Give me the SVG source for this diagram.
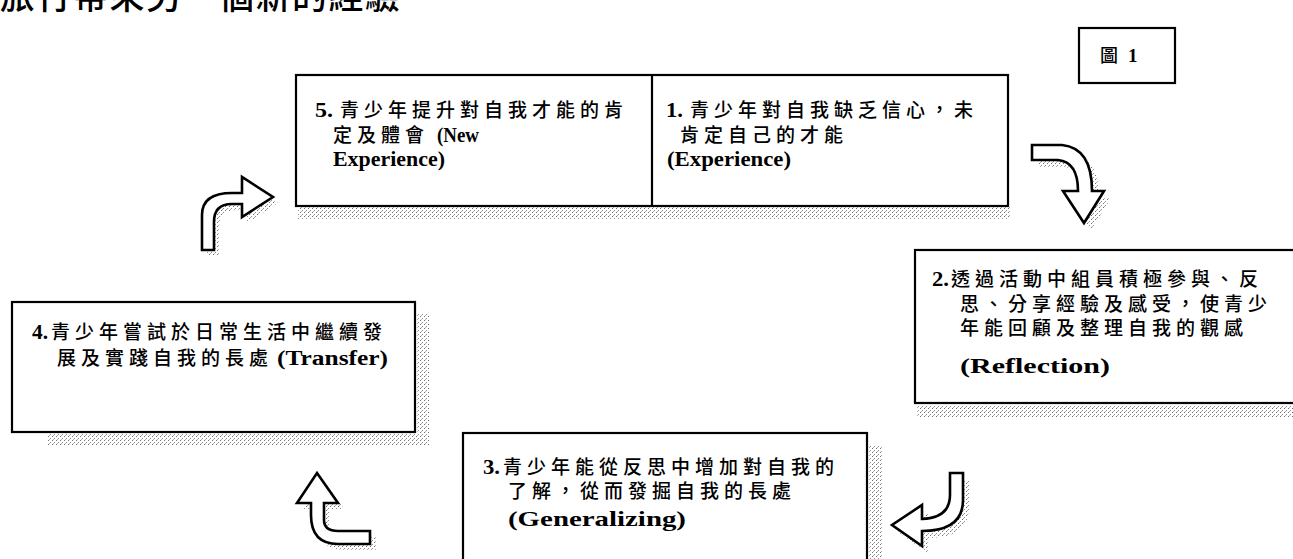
<svg xmlns="http://www.w3.org/2000/svg" width="1293" height="559" viewBox="0 0 1293 559">
<defs>
<pattern id="dots" width="4" height="4" patternUnits="userSpaceOnUse">
<rect width="1" height="1" fill="#707070"/>
<rect x="2" y="2" width="1" height="1" fill="#909090"/>
<rect x="1" y="3" width="1" height="1" fill="#b0b0b0"/>
</pattern>
<style>
.box{fill:#fff;stroke:#000;stroke-width:2.2}
.shadow{fill:url(#dots)}
.arrow{fill:#fff;stroke:#000;stroke-width:2.6;stroke-linejoin:miter}
.zh{font-family:"Noto Sans CJK TC","Noto Sans CJK SC",sans-serif;font-size:19px;font-weight:500;letter-spacing:5px;fill:#000}
.en{font-family:"Liberation Serif","Noto Sans CJK TC",serif;font-size:20px;font-weight:bold;fill:#000}
.title{font-family:"Noto Sans CJK TC",sans-serif;font-size:35px;font-weight:500;letter-spacing:1.5px;fill:#000}
</style>
</defs>
<rect width="1293" height="559" fill="#fff"/>

<g id="title">
<text class="title" x="0" y="9">旅行帶來另一個新的經驗</text>
</g>

<g id="fig-label">
<rect class="box" x="1079" y="28" width="96" height="55"/>
<text class="zh" x="1100" y="62" style="font-size:18px;letter-spacing:0">圖</text>
<text class="en" x="1128" y="62" style="font-size:19px">1</text>
</g>

<g id="node-5-1">
<rect class="shadow" x="298" y="207" width="712" height="12"/>
<rect class="box" x="296" y="75" width="712" height="131"/>
<line x1="652" y1="75" x2="652" y2="206" stroke="#000" stroke-width="2.2"/>
</g>

<g id="node-5">
<text class="en" x="315" y="117" textLength="18" lengthAdjust="spacingAndGlyphs">5.</text>
<text class="zh" x="340" y="117">青少年提升對自我才能的肯</text>
<text class="zh" x="333" y="142">定及體會</text>
<text class="en" x="437" y="142" textLength="42" lengthAdjust="spacingAndGlyphs">(New</text>
<text class="en" x="333" y="166" textLength="112" lengthAdjust="spacingAndGlyphs">Experience)</text>
</g>

<g id="node-1">
<text class="en" x="666" y="117" textLength="17" lengthAdjust="spacingAndGlyphs">1.</text>
<text class="zh" x="690" y="117">青少年對自我缺乏信心，未</text>
<text class="zh" x="680" y="142">肯定自己的才能</text>
<text class="en" x="667" y="166" textLength="124" lengthAdjust="spacingAndGlyphs">(Experience)</text>
</g>

<g id="node-2">
<rect class="shadow" x="917" y="405" width="376" height="12"/>
<rect class="box" x="915" y="250" width="390" height="153"/>
<text class="en" x="932" y="286" textLength="17" lengthAdjust="spacingAndGlyphs">2.</text>
<text class="zh" x="951" y="286">透過活動中組員積極參與、反</text>
<text class="zh" x="960" y="311">思、分享經驗及感受，使青少</text>
<text class="zh" x="960" y="335">年能回顧及整理自我的觀感</text>
<text class="en" x="960" y="373" style="font-size:22px" textLength="150" lengthAdjust="spacingAndGlyphs">(Reflection)</text>
</g>

<g id="node-3">
<rect class="shadow" x="869" y="445" width="13" height="120"/>
<rect class="box" x="463" y="433" width="404" height="140"/>
<text class="en" x="483" y="474" textLength="17" lengthAdjust="spacingAndGlyphs">3.</text>
<text class="zh" x="503" y="474">青少年能從反思中增加對自我的</text>
<text class="zh" x="508" y="498">了解，從而發掘自我的長處</text>
<text class="en" x="508" y="526" style="font-size:22px" textLength="178" lengthAdjust="spacingAndGlyphs">(Generalizing)</text>
</g>

<g id="node-4">
<rect class="shadow" x="417" y="314" width="12" height="131"/>
<rect class="shadow" x="48" y="434" width="381" height="11"/>
<rect class="box" x="12" y="302" width="403" height="130"/>
<text class="en" x="32" y="339" textLength="16" lengthAdjust="spacingAndGlyphs">4.</text>
<text class="zh" x="51" y="339">青少年嘗試於日常生活中繼續發</text>
<text class="zh" x="57" y="365">展及實踐自我的長處</text>
<text class="en" x="277" y="365" textLength="111" lengthAdjust="spacingAndGlyphs">(Transfer)</text>
</g>

<g id="connectors">
<g id="arrow-1-2">
<path class="shadow" transform="translate(7,7)" d="M1032,145 L1062,145 Q1092,148 1092,191 L1104,191 L1084,223 L1063,191 L1078,191 Q1078,162 1058,160 L1032,160 Z"/>
<path class="arrow" d="M1032,145 L1062,145 Q1092,148 1092,191 L1104,191 L1084,223 L1063,191 L1078,191 Q1078,162 1058,160 L1032,160 Z"/>
</g>
<g id="arrow-2-3">
<path class="shadow" transform="translate(6,7)" d="M950,473 L963,473 L963,500 Q963,531 922,531 L922,546 L892,525 L922,505 L922,519 Q950,518 950,495 Z"/>
<path class="arrow" d="M950,473 L963,473 L963,500 Q963,531 922,531 L922,546 L892,525 L922,505 L922,519 Q950,518 950,495 Z"/>
</g>
<g id="arrow-3-4">
<path class="shadow" transform="translate(6,6)" d="M317,473 L338,503 L324,503 L324,520 Q324,531 338,531 L370,531 L370,544 L338,544 Q311,544 311,515 L311,503 L297,503 Z"/>
<path class="arrow" d="M317,473 L338,503 L324,503 L324,520 Q324,531 338,531 L370,531 L370,544 L338,544 Q311,544 311,515 L311,503 L297,503 Z"/>
</g>
<g id="arrow-4-5">
<path class="shadow" transform="translate(5,6)" d="M202,250 L202,215 Q202,193 232,193 L242,193 L242,177 L273,197 L242,217 L242,204 L232,204 Q214,204 214,222 L214,250 Z"/>
<path class="arrow" d="M202,250 L202,215 Q202,193 232,193 L242,193 L242,177 L273,197 L242,217 L242,204 L232,204 Q214,204 214,222 L214,250 Z"/>
</g>
</g>
</svg>
